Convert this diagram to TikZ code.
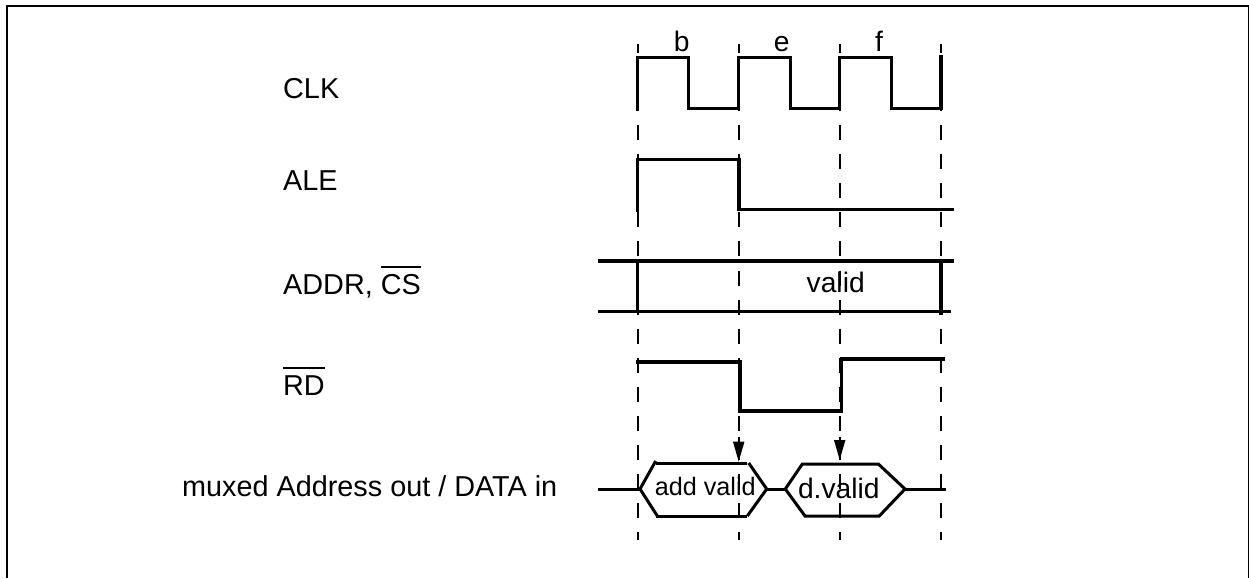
\documentclass[tikz,border=0pt]{standalone}
\usepackage{fontspec}
\setmainfont{Liberation Sans}
\usetikzlibrary{arrows.meta}

\newcommand{\ovbar}[2]{\setbox0\hbox{#2}\rlap{\rule[#1]{\wd0}{2pt}}\box0}

\begin{document}
\begin{tikzpicture}[
        x=1pt, y=-1pt,
        every node/.style={font=\fontsize{28.2}{30}\selectfont, inner sep=0pt, anchor=base},
        siglabel/.style={anchor=base west, font=\fontsize{28.8}{30}\selectfont},
        smalltext/.style={font=\fontsize{25.2}{30}\selectfont},
        sideline/.style={line width=1.8pt},
        topline/.style={line width=2.6pt},
        wave/.style={line width=3.4pt},
        bus/.style={line width=3pt},
        guide/.style={line width=1.8pt, dash pattern=on 15pt off 14.1pt, dash phase=6.3pt},
        arr/.style={-{Triangle[length=20pt, width=11pt]}, line width=1.8pt}
    ]
        \useasboundingbox (0,0) rectangle (1249,578);
        \draw[sideline] (7,578) -- (7,6);
        \draw[sideline] (1248.5,6) -- (1248.5,578);
        \draw[topline] (6,6) -- (1249,6);

        \foreach \gx in {637.7, 738.7, 839.7, 941}
            \draw[guide] (\gx,44) -- (\gx,540);

        \node[siglabel] (clk)  at (283,98)  {CLK};
        \node[siglabel] (ale)  at (283,190) {ALE};
        \node[siglabel] (addr) at (283,294) {ADDR, \ovbar{26.3pt}{CS}};
        \node[siglabel] (rd)   at (283,395) {\ovbar{26.3pt}{RD}};
        \node[siglabel] (mux)  at (182,496) {muxed Address out / DATA in};

        \node (phb) at (681.7,51.7) {b};
        \node (phe) at (781.7,51.7) {e};
        \node (phf) at (879,51.7)   {f};
        \node (valid)  at (835.7,292.7) {valid};
        \node[smalltext] (addval) at (705.3,495) {add valid};
        \node (dval)   at (838.8,498.3) {d.valid};

        \draw[wave] (637.7,110.5) -- (637.7,57.7) -- (688.3,57.7) -- (688.3,108.7) -- (738.7,108.7) -- (738.7,57.7) -- (790.3,57.7) -- (790.3,108.7) -- (839.7,108.7) -- (839.7,57.7) -- (891.3,57.7) -- (891.3,108.7) -- (941,108.7) -- (941,55);
        \draw[wave] (637.7,211.5) -- (637.7,159.7) -- (739,159.7) -- (739,209.7) -- (954,209.7);
        \draw[wave] (598,261) -- (954,261);
        \draw[wave] (598,311.7) -- (951,311.7);
        \draw[wave] (637.7,261) -- (637.7,311.7);
        \draw[wave] (941,261) -- (941,314.7);
        \draw[wave] (636,362) -- (740,362) -- (740,411) -- (841.7,411) -- (841.7,359) -- (945,359);

        \draw[bus] (598,489) -- (640,489);
        \draw[bus] (655.7,461) -- (640,489) -- (658,517);
        \draw[bus] (655.7,463.7) -- (747.3,463.7);
        \draw[bus] (655.7,516) -- (747.3,516);
        \draw[bus] (748.7,463) -- (766.7,489) -- (747.3,516);
        \draw[bus] (766.7,489) -- (785.3,489);
        \draw[bus] (802.3,464) -- (785.3,489) -- (805,516) -- (879.3,516) -- (905,489) -- (878.3,464) -- cycle;
        \draw[bus] (905,489) -- (946,489);

        \coordinate (afrom) at (738.7,437);
        \coordinate (ato)   at (738.7,461.7);
        \coordinate (dfrom) at (839.7,437);
        \coordinate (dto)   at (839.7,460);
        \draw[arr] (afrom) -- (ato);
        \draw[arr] (dfrom) -- (dto);
    \end{tikzpicture}
\end{document}
